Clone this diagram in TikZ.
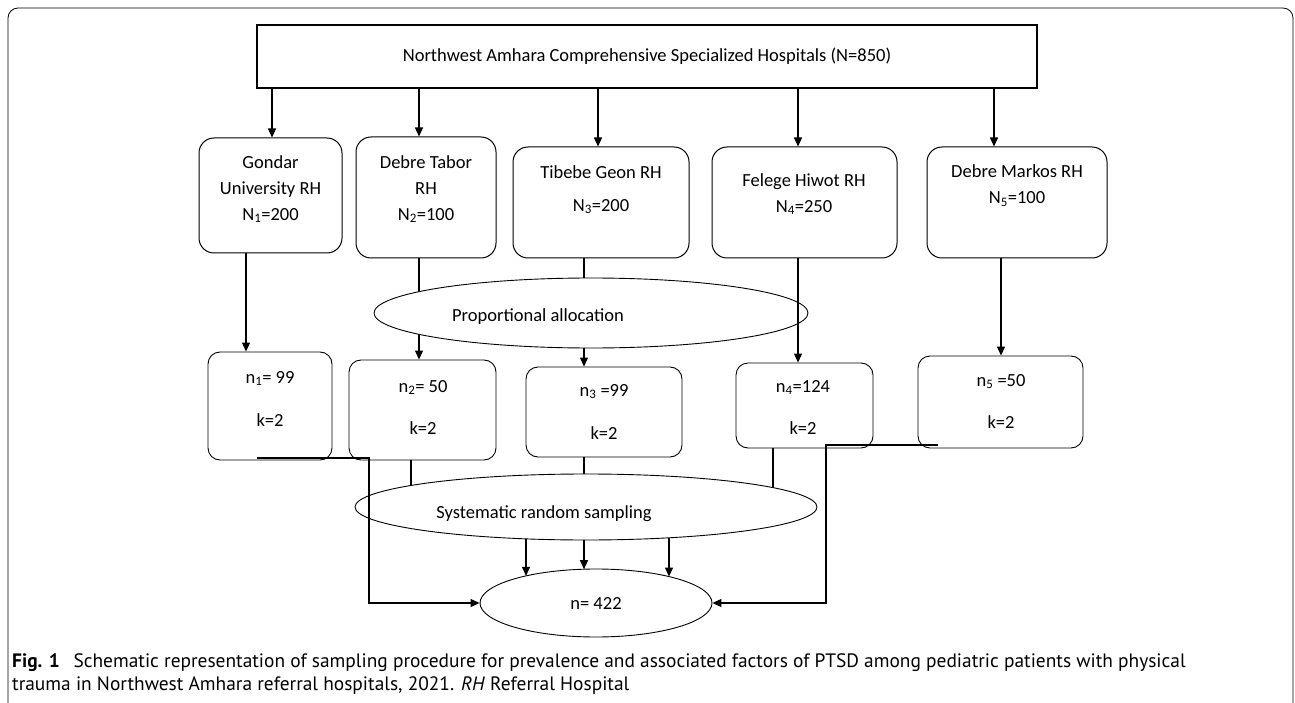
\documentclass[tikz,border=0pt]{standalone}
\usepackage{fontspec}
\setmainfont{Carlito}
\newfontfamily\capfont{PT Sans}
\usetikzlibrary{arrows.meta,shapes.geometric}
\begin{document}
\begin{tikzpicture}[x=1pt,y=-1pt,
  topbox/.style={draw, line width=1.6pt, inner sep=0pt},
  hbox/.style={draw, rounded corners=15pt, line width=1pt, inner sep=0pt},
  sbox/.style={draw, rounded corners=12pt, line width=0.9pt, inner sep=0pt},
  oval/.style={draw, ellipse, inner sep=0pt, line width=0.9pt},
  txt/.style={font=\fontsize{18.5}{26}\selectfont, align=center, inner sep=0pt},
  captxt/.style={font=\capfont\fontsize{19.4}{23}\selectfont, anchor=west, inner sep=0pt},
  arr/.style={line width=1.1pt, -{Triangle[length=9pt,width=8pt]}},
  ln/.style={line width=1.1pt}]
\useasboundingbox (0,0) rectangle (1295,703);
\fill[white] (0,0) rectangle (1295,703);
\draw[line width=0.8pt, rounded corners=10pt] (8,730) -- (8,8) -- (1293,8) -- (1293,730);

% top box
\node[topbox, minimum width=780pt, minimum height=63pt] (top) at (647,56.5) {};
\node[txt] (toptxt) at (647,56) {Northwest Amhara Comprehensive Specialized Hospitals (N=850)};

% hospital boxes
\node[hbox, minimum width=143pt, minimum height=115pt] (gu) at (270.5,195.5) {};
\node[hbox, minimum width=140pt, minimum height=121pt] (dt) at (426,197.5) {};
\node[hbox, minimum width=176pt, minimum height=111pt] (tg) at (601,202.5) {};
\node[hbox, minimum width=185pt, minimum height=111pt] (fh) at (804.5,202.5) {};
\node[hbox, minimum width=180pt, minimum height=111pt] (dm) at (1017,202.5) {};
\node[txt] (gut) at (270.5,189) {Gondar\\University RH\\N\textsubscript{1}=200};
\node[txt] (dtt) at (426,189) {Debre Tabor\\RH\\N\textsubscript{2}=100};
\node[txt, font=\fontsize{18.5}{33}\selectfont] (tgt) at (601,189.5) {Tibebe Geon RH\\N\textsubscript{3}=200};
\node[txt] (fht) at (804,194) {Felege Hiwot RH\\N\textsubscript{4}=250};
\node[txt] (dmt) at (1017,185.5) {Debre Markos RH\\N\textsubscript{5}=100};

% proportional allocation
\node[oval, minimum width=434pt, minimum height=70pt] (prop) at (591,313) {};
\node[txt] (propt) at (538,317) {Proportional allocation};

% sample boxes
\node[sbox, minimum width=124pt, minimum height=108pt] (n1) at (270,406) {};
\node[sbox, minimum width=147pt, minimum height=100pt] (n2) at (422.5,410) {};
\node[sbox, minimum width=156pt, minimum height=90pt] (n3) at (604,412) {};
\node[sbox, minimum width=137pt, minimum height=85pt] (n4) at (804.5,405.5) {};
\node[sbox, minimum width=165pt, minimum height=92pt] (n5) at (1000.5,402) {};
\node[txt, font=\fontsize{18.5}{43}\selectfont] (n1t) at (270,398.5) {n\textsubscript{1}= 99\\k=2};
\node[txt, font=\fontsize{18.5}{42}\selectfont] (n2t) at (423,407) {n\textsubscript{2}= 50\\k=2};
\node[txt, font=\fontsize{18.5}{43}\selectfont] (n3t) at (604,411.5) {n\textsubscript{3} =99\\k=2};
\node[txt, font=\fontsize{18.5}{42}\selectfont] (n4t) at (803,407) {n\textsubscript{4}=124\\k=2};
\node[txt, font=\fontsize{18.5}{42}\selectfont] (n5t) at (1001,401) {n\textsubscript{5} =50\\k=2};

% systematic sampling and total
\node[oval, minimum width=462pt, minimum height=66pt] (sys) at (586,507) {};
\node[txt] (syst) at (544,514) {Systematic random sampling};
\node[oval, minimum width=232pt, minimum height=68pt] (tot) at (596,603) {};
\node[txt] (tott) at (596,603) {n= 422};

% ellipse boundary points
\coordinate (p1a) at (419,291.7);
\coordinate (p1b) at (419,334.3);
\coordinate (p2a) at (584,278);
\coordinate (p2b) at (584,348);
\coordinate (s1) at (411,485.5);
\coordinate (s2) at (584,474);
\coordinate (s3) at (773,487.6);
\coordinate (b1) at (526,538.9);
\coordinate (b2) at (584,540);
\coordinate (b3) at (669,537.8);
\coordinate (t1) at (526,575.9);
\coordinate (t2) at (584,569.2);
\coordinate (t3) at (669,576.6);
\coordinate (c1) at (257,458);
\coordinate (c5) at (938,445);

% top arrows
\draw[arr] ([xshift=1.5pt]gu.north |- top.south) -- ([xshift=1.5pt]gu.north);
\draw[arr] ([xshift=-7pt]dt.north |- top.south) -- ([xshift=-7pt]dt.north);
\draw[arr] ([xshift=-3pt]tg.north |- top.south) -- ([xshift=-3pt]tg.north);
\draw[arr] ([xshift=-6.5pt]fh.north |- top.south) -- ([xshift=-6.5pt]fh.north);
\draw[arr] ([xshift=-23pt]dm.north |- top.south) -- ([xshift=-23pt]dm.north);

% hospital to samples
\draw[arr] ([xshift=-24.5pt]gu.south) -- ([xshift=-24.5pt]gu.south |- n1.north);
\draw[ln] ([xshift=-7pt]dt.south) -- (p1a);
\draw[arr] (p1b) -- (p1b |- n2.north);
\draw[ln] ([xshift=-17pt]tg.south) -- (p2a);
\draw[arr] (p2b) -- (p2b |- n3.north);
\draw[arr] ([xshift=-6.5pt]fh.south) -- ([xshift=-6.5pt]fh.south |- n4.north);
\draw[arr] ([xshift=-16pt]dm.south) -- ([xshift=-16pt]dm.south |- n5.north);

% samples to systematic sampling
\draw[ln] ([xshift=-11.5pt]n2.south) -- (s1);
\draw[ln] ([xshift=-20pt]n3.south) -- (s2);
\draw[ln] ([xshift=-31.5pt]n4.south) -- (s3);
\draw[arr] (c1) -| ++(112,0) |- (tot.west);
\draw[arr] (c5) -| ++(-112,0) |- (tot.east);

% systematic to total
\draw[arr] (b1) -- (t1);
\draw[arr] (b2) -- (t2);
\draw[arr] (b3) -- (t3);

% caption
\node[captxt] (cap1) at (12,663) {\textbf{Fig. 1}\hspace{0.7em}Schematic representation of sampling procedure for prevalence and associated factors of PTSD among pediatric patients with physical};
\node[captxt] (cap2) at (12,686) {trauma in Northwest Amhara referral hospitals, 2021. \textit{RH} Referral Hospital};
\end{tikzpicture}
\end{document}
